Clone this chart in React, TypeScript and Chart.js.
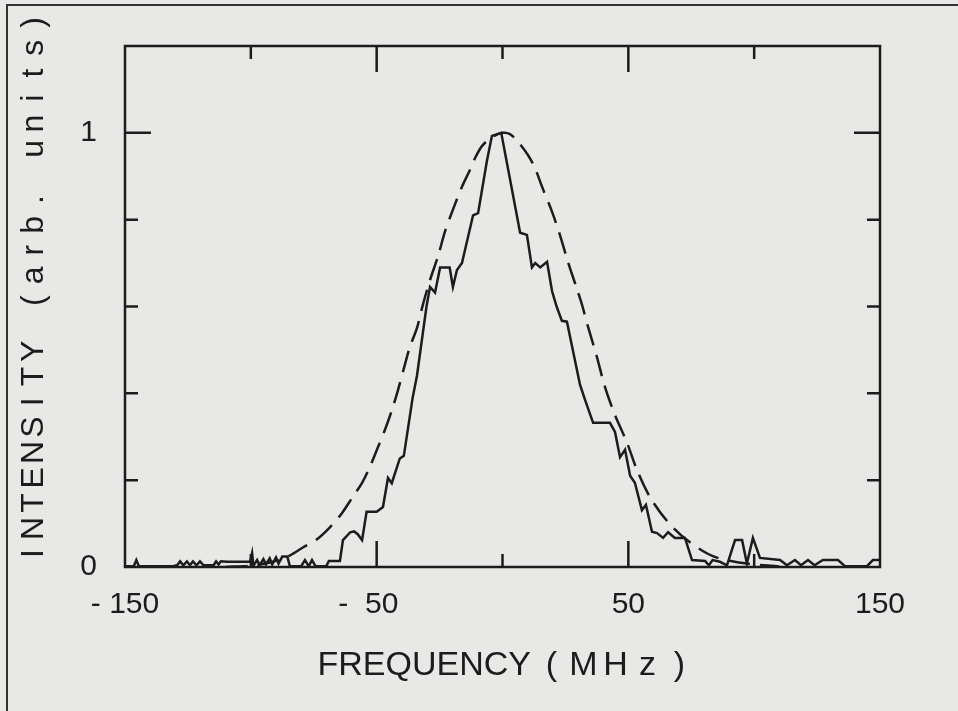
import { useEffect, useRef } from 'react';
import { Chart, registerables } from 'chart.js';

Chart.register(...registerables);

// ---- data ----
const solidFreq = [
  -150, -146.5, -145.5, -144.5, -131, -129.3, -128.1, -126.8, -125.4, -124.2, -123, -121.6, -120.2, -118.8,
  -114.8, -113.8, -112.8, -111.9, -109.5, -100.3, -99.5, -99, -97.5, -96.5, -95, -94, -92.5, -91.5, -90, -89,
  -87.5, -85.5, -84.5, -80, -78.5, -77, -75.7, -74.3, -70, -69, -64.6, -63.4, -60.5, -59, -57.6, -55.8, -54,
  -50, -47.5, -45.5, -44, -40.8, -39.2, -35.7, -34, -30.2, -28.8, -26.8, -24.8, -21, -19.7, -18.1, -16.1,
  -11.7, -9.7, -6.2, -4.2, -0.5, 7.0, 9.7, 11.7, 13, 15, 17.7, 19.7, 21.5, 23.6, 25.6, 30.8, 32.8, 36, 42.7,
  44.7, 46.7, 48.7, 50.7, 52.6, 55.4, 57, 59.4, 61.4, 63.8, 65.8, 68.5, 72.5, 75.3, 80.5, 82, 83.5, 86.4,
  89.2, 92.4, 95.2, 97.1, 99.5, 102.3, 110.3, 113, 116.2, 118.6, 121.4, 124, 127.3, 133.3, 136.1, 144.8,
  147.2, 150,
];
const solidIntensity = [
  0.002, 0.002, 0.016, 0.002, 0.002, 0.004, 0.013, 0.004, 0.013, 0.004, 0.013, 0.004, 0.013, 0.004,
  0.004, 0.013, 0.006, 0.013, 0.012, 0.012, 0.032, 0.003, 0.016, 0.004, 0.018, 0.006, 0.02, 0.006, 0.022, 0.008,
  0.024, 0.024, 0.002, 0.002, 0.016, 0.002, 0.016, 0.002, 0.002, 0.014, 0.014, 0.062, 0.08, 0.082, 0.076, 0.062, 0.127,
  0.127, 0.138, 0.205, 0.193, 0.25, 0.256, 0.39, 0.44, 0.6, 0.645, 0.632, 0.69, 0.69, 0.645, 0.684, 0.7,
  0.81, 0.815, 0.935, 0.993, 1.0, 0.77, 0.765, 0.69, 0.7, 0.69, 0.703, 0.635, 0.6, 0.567, 0.565, 0.42, 0.385, 0.332, 0.332,
  0.311, 0.253, 0.27, 0.21, 0.194, 0.131, 0.143, 0.081, 0.078, 0.067, 0.08, 0.067, 0.067, 0.016, 0.014, 0.004, 0.016, 0.012,
  0.004, 0.062, 0.062, 0.008, 0.067, 0.021, 0.016, 0.004, 0.016, 0.004, 0.016, 0.004, 0.016, 0.016, 0.002, 0.002,
  0.016, 0.016,
];

const dashedFreq = [
  -110, -98.3, -91.2, -84.4, -79.3, -73.7, -68.5, -63.8, -59.8, -55.8, -52.6, -49.5, -46.7, -43.9, -41.5,
  -38.7, -36.8, -34.0, -31.6, -28.8, -25.6, -22.9, -19.7, -16.1, -12.9, -10.9, -8.1, -4.2, 0, 3, 6.2, 10.1,
  12.9, 15.7, 19.7, 22.8, 26.0, 29.6, 31.6, 34.0, 37.5, 40.7, 44.7, 49.5, 53.4, 58.6, 65.4, 73.3, 83.6, 95.6, 110,
];
const dashedIntensity = [
  0.0, 0.004, 0.012, 0.027, 0.045, 0.064, 0.092, 0.124, 0.159, 0.194, 0.232, 0.276, 0.316, 0.362, 0.408,
  0.468, 0.507, 0.55, 0.605, 0.661, 0.716, 0.772, 0.823, 0.876, 0.915, 0.942, 0.97, 0.99, 1.0, 0.997, 0.979, 0.949,
  0.919, 0.876, 0.818, 0.765, 0.703, 0.64, 0.604, 0.553, 0.484, 0.415, 0.35, 0.286, 0.224, 0.161, 0.106, 0.062, 0.025, 0.009, 0.001,
];

const xTickLabels: Record<string, string> = { '-150': '- 150', '-50': '-  50  ', '50': '50', '150': '150' };
const yTickLabels: Record<string, string> = { '0': '0', '1': '1' };
const xMinorTicks = [-100, 0, 100];
const xMajorTicks = [-50, 50];
const yMinorTicks = [0.2, 0.4, 0.6, 0.8];
const yMajorTicks = [1];
const xTitleWord = 'FREQUENCY';
const xTitleUnit = '(MHz)';
const yTitle = 'INTENSITY (arb. units)';

const INK = '#1c1c1c';
const PAPER = '#e8e8e6';

function drawCells(ctx: CanvasRenderingContext2D, text: string, firstCenter: number, advance: number) {
  ctx.textAlign = 'center';
  for (let i = 0; i < text.length; i++) {
    ctx.fillText(text[i], firstCenter + i * advance, 0);
  }
}

const paperPlugin = {
  id: 'paper',
  beforeDraw(chart: any) {
    const { ctx, width, height } = chart;
    ctx.save();
    ctx.fillStyle = PAPER;
    ctx.fillRect(0, 0, width, height);
    ctx.strokeStyle = '#333333';
    ctx.lineWidth = 2;
    ctx.beginPath();
    ctx.moveTo(7, height);
    ctx.lineTo(7, 5);
    ctx.lineTo(width, 5);
    ctx.stroke();
    ctx.restore();
  },
};

const framePlugin = {
  id: 'frame',
  afterDatasetsDraw(chart: any) {
    const { ctx, chartArea: a, scales } = chart;
    const x = scales.x;
    const y = scales.y;
    ctx.save();
    ctx.strokeStyle = INK;
    ctx.lineWidth = 2.5;
    ctx.strokeRect(a.left, a.top, a.right - a.left, a.bottom - a.top);
    const shortLen = 13;
    const longLen = 26;
    ctx.beginPath();
    const xt = (v: number, len: number) => {
      const px = x.getPixelForValue(v);
      ctx.moveTo(px, a.bottom); ctx.lineTo(px, a.bottom - len);
      ctx.moveTo(px, a.top); ctx.lineTo(px, a.top + len);
    };
    const yt = (v: number, len: number) => {
      const py = y.getPixelForValue(v);
      ctx.moveTo(a.left, py); ctx.lineTo(a.left + len, py);
      ctx.moveTo(a.right, py); ctx.lineTo(a.right - len, py);
    };
    xMinorTicks.forEach((v) => xt(v, shortLen));
    xMajorTicks.forEach((v) => xt(v, longLen));
    yMinorTicks.forEach((v) => yt(v, shortLen));
    yMajorTicks.forEach((v) => yt(v, longLen));
    ctx.stroke();
    ctx.restore();
  },
  afterDraw(chart: any) {
    const { ctx, chartArea: a } = chart;
    ctx.save();
    ctx.fillStyle = INK;
    ctx.textBaseline = 'alphabetic';
    // x title
    ctx.font = '34px "Liberation Sans", Arial, sans-serif';
    const cx = (a.left + a.right) / 2;
    ctx.save();
    ctx.translate(cx - 185, a.bottom + 108);
    ctx.textAlign = 'left';
    ctx.fillText(xTitleWord, 0, 0);
    drawCells(ctx, xTitleUnit, 234, 32);
    ctx.restore();
    // y title (rotated, monospaced cells)
    ctx.font = '32px "Liberation Sans", Arial, sans-serif';
    ctx.save();
    ctx.translate(a.left - 82, a.top + 242);
    ctx.rotate(-Math.PI / 2);
    const adv = 25.3;
    drawCells(ctx, yTitle, -adv * (yTitle.length - 1) / 2, adv);
    ctx.restore();
    ctx.restore();
  },
};

export default function App() {
  const ref = useRef<HTMLCanvasElement | null>(null);
  useEffect(() => {
    document.body.style.margin = '0';
    const canvas = ref.current;
    if (!canvas) return;
    const solid = solidFreq.map((f, i) => ({ x: f, y: solidIntensity[i] }));
    const dashed = dashedFreq.map((f, i) => ({ x: f, y: dashedIntensity[i] }));
    const chart = new Chart(canvas, {
      type: 'line',
      data: {
        datasets: [
          {
            label: 'measured',
            data: solid,
            borderColor: INK,
            borderWidth: 2.5,
            pointRadius: 0,
            tension: 0,
            fill: false,
          },
          {
            label: 'fit',
            data: dashed,
            borderColor: INK,
            borderWidth: 2.5,
            borderDash: [22, 10],
            pointRadius: 0,
            tension: 0.3,
            fill: false,
          },
        ],
      },
      options: {
        responsive: false,
        animation: false,
        layout: { padding: { top: 45, right: 78, left: 0, bottom: 0 } },
        plugins: { legend: { display: false }, tooltip: { enabled: false } },
        scales: {
          x: {
            type: 'linear',
            min: -150,
            max: 150,
            grid: { display: false, drawTicks: false },
            border: { display: false },
            ticks: {
              stepSize: 50,
              autoSkip: false,
              maxRotation: 0,
              padding: 20,
              color: INK,
              font: { family: '"Liberation Sans", Arial, sans-serif', size: 30 },
              callback: (v: any) => xTickLabels[String(Math.round(Number(v)))] ?? '',
            },
            afterFit: (s: any) => { s.height = 144; },
          },
          y: {
            type: 'linear',
            min: 0,
            max: 1.2,
            grid: { display: false, drawTicks: false },
            border: { display: false },
            ticks: {
              stepSize: 0.2,
              autoSkip: false,
              padding: 28,
              color: INK,
              font: { family: '"Liberation Sans", Arial, sans-serif', size: 30 },
              callback: (v: any) => {
                const n = Number(v);
                if (Math.abs(n) < 1e-6) return yTickLabels['0'];
                if (Math.abs(n - 1) < 1e-6) return yTickLabels['1'];
                return '';
              },
            },
            afterFit: (s: any) => { s.width = 125; },
          },
        },
      },
      plugins: [paperPlugin, framePlugin],
    });
    return () => chart.destroy();
  }, []);
  return <canvas ref={ref} width={958} height={711} style={{ display: 'block' }} />;
}
